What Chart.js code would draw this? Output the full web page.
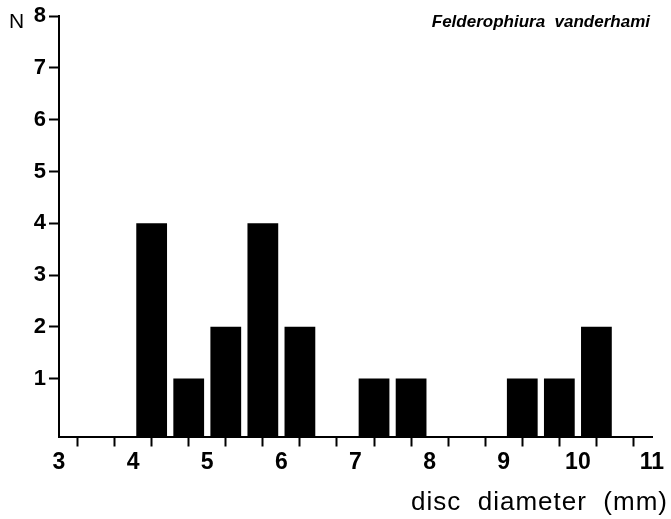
<!DOCTYPE html>
<html>
<head>
<meta charset="utf-8">
<script src="https://cdn.jsdelivr.net/npm/chart.js@4/dist/chart.umd.min.js"></script>
<style>
  html, body { margin: 0; padding: 0; background: #fff; }
  #wrap { width: 671px; height: 519px; }
</style>
</head>
<body>
<div id="wrap"><canvas id="histChart" width="671" height="519"></canvas></div>
<script>
// bin centres (mm), bins are 0.5 mm wide
const binCenters = [4.25, 4.75, 5.25, 5.75, 6.25, 7.25, 7.75, 9.25, 9.75, 10.25]
const counts = [4, 1, 2, 4, 2, 1, 1, 1, 1, 2]
const yTickValues = [1, 2, 3, 4, 5, 6, 7, 8]
const xTickLabels = ['3', '4', '5', '6', '7', '8', '9', '10', '11']

const speciesName = 'Felderophiura  vanderhami'
const xTitle = 'disc  diameter  (mm)'
const yTitle = 'N'

const font = '"Liberation Sans", Arial, sans-serif'
const yMin = -0.12

const textPlugin = {
    id: 'texts',
    afterDraw(chart) {
        const ctx = chart.ctx
        ctx.save()
        ctx.fillStyle = '#000'
        ctx.textBaseline = 'alphabetic'

        ctx.font = '21px ' + font
        ctx.textAlign = 'left'
        ctx.fillText(yTitle, 9, 28)

        ctx.font = 'italic bold 17px ' + font
        ctx.textAlign = 'right'
        ctx.fillText(speciesName, 650, 27)

        ctx.font = '26px ' + font
        ctx.letterSpacing = '1px'
        ctx.textAlign = 'right'
        ctx.fillText(xTitle, 668, 510)
        ctx.restore()
    }
}

const ctx = document.getElementById('histChart').getContext('2d')
const chart = new Chart(ctx, {
    type: 'bar',
    data: {
        datasets: [{
            data: binCenters.map((x, i) => ({x: x, y: counts[i]})),
            backgroundColor: '#000',
            borderWidth: 0,
            base: yMin,
            barPercentage: 0.83,
            categoryPercentage: 1,
        }]
    },
    options: {
        responsive: false,
        animation: false,
        layout: {padding: {top: 14, right: 19, left: 0, bottom: 0}},
        plugins: {legend: {display: false}, tooltip: {enabled: false}},
        scales: {
            x: {
                type: 'linear',
                min: 3,
                max: 11,
                offset: false,
                afterFit: (scale) => { scale.height = 82.5 },
                ticks: {
                    stepSize: 0.5,
                    autoSkip: false,
                    maxRotation: 0,
                    padding: 2,
                    color: '#000',
                    font: {family: font, size: 23, weight: 'bold'},
                    callback: (v) => {
                        const idx = xTickLabels.indexOf(String(v))
                        return idx >= 0 ? xTickLabels[idx] : ''
                    }
                },
                grid: {drawOnChartArea: false, drawTicks: true, tickLength: 10, tickWidth: 2, tickColor: '#000'},
                border: {display: true, width: 2, color: '#000'}
            },
            y: {
                min: yMin,
                max: 8,
                afterFit: (scale) => { scale.width = 59 },
                afterBuildTicks: (scale) => { scale.ticks = yTickValues.map(v => ({value: v})) },
                ticks: {
                    padding: 3,
                    color: '#000',
                    font: {family: font, size: 22, weight: 'bold'},
                },
                grid: {drawOnChartArea: false, drawTicks: true, tickLength: 10, tickWidth: 2, tickColor: '#000'},
                border: {display: true, width: 2, color: '#000'}
            }
        }
    },
    plugins: [textPlugin]
})
</script>
</body>
</html>
